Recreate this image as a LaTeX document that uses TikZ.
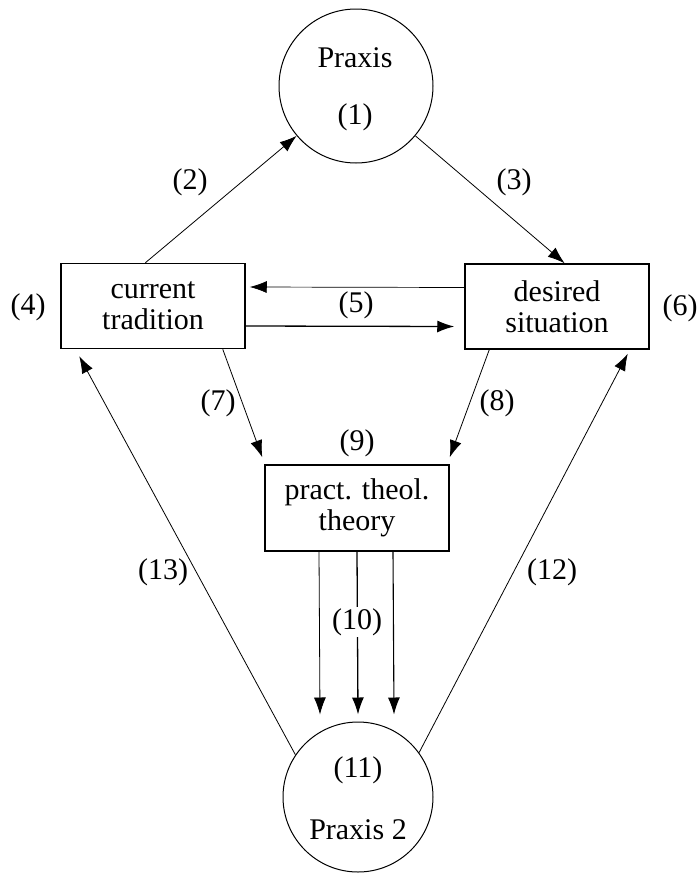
\documentclass[tikz,border=0pt]{standalone}
\usepackage{fontspec}
\setmainfont{Liberation Serif}
\usetikzlibrary{arrows.meta}

\begin{document}
\begin{tikzpicture}[x = 1pt, y = -1pt, font = \fontsize{30}{31}\selectfont,
    praxis/.style = {shape = circle, draw, line width = 1pt, inner sep = 0pt},
    stage/.style = {shape = rectangle, draw, line width = 1.5pt, minimum width = 184pt, minimum height = 85pt, align = center, inner sep = 0pt},
    flow/.style = {-{Latex[length = 17pt, width = 12pt]}, line width = 0.8pt},
    num/.style = {inner sep = 1pt}]
    \useasboundingbox (0,0) rectangle (697,873);
    % the two praxis circles
    \node[praxis, minimum size = 154pt] (P1) at (356,86) {};
    \node (P1t) at (355,58) {Praxis};
    \node[num] (N1) at (355,117) {(1)};
    \node[praxis, minimum size = 150pt] (P2) at (358,797) {};
    \node[num] (N11) at (358,770) {(11)};
    \node (P2t) at (358,830) {Praxis 2};
    % boxes
    \node[stage] (cur) at (153,306) {current\\tradition};
    \node[stage] (des) at (557,306.5) {desired\\situation};
    \node[stage, minimum height = 86pt] (the) at (357,508) {pract. theol.\\theory};
    % arrows
    \draw[flow] (cur.100) -- (P1.220);
    \draw[flow] (P1.320) -- (des.80);
    \draw[flow, line width = 0.7pt] ([yshift = 19pt]des.west) -- ([yshift = 19pt, xshift = 4pt]cur.east);
    \draw[flow, line width = 1.3pt] ([yshift = -20pt]cur.east) -- ([yshift = -20pt, xshift = -10pt]des.west);
    \draw[flow] ([xshift = -23pt]cur.south east) -- ([yshift = 7pt, xshift = -2pt]the.north west);
    \draw[flow] ([xshift = 25pt]des.south west) -- ([yshift = 7pt]the.north east);
    \foreach \dx/\lw in {-38/0.8, 0/1.3, 36/1.1}
        \draw[flow, line width = \lw pt] ([xshift = \dx pt]the.south) -- ([xshift = \dx pt, yshift = 7pt]P2.north);
    \draw[flow] (P2.146) -- ([xshift = 19pt, yshift = -7pt]cur.south west);
    \draw[flow] (P2.36) -- ([xshift = -22pt, yshift = -4pt]des.south east);
    % numbers
    \node[num] (N2) at (190,182) {(2)};
    \node[num] (N3) at (514,182) {(3)};
    \node[num] (N4) at (28,307) {(4)};
    \node[num] (N5) at (356,305) {(5)};
    \node[num] (N6) at (680,308) {(6)};
    \node[num] (N7) at (218,403) {(7)};
    \node[num] (N8) at (497,403) {(8)};
    \node[num] (N9) at (357,443) {(9)};
    \node[num, fill = white] (N10) at (357,622) {(10)};
    \node[num] (N12) at (552,572) {(12)};
    \node[num] (N13) at (163,572) {(13)};
\end{tikzpicture}
\end{document}
